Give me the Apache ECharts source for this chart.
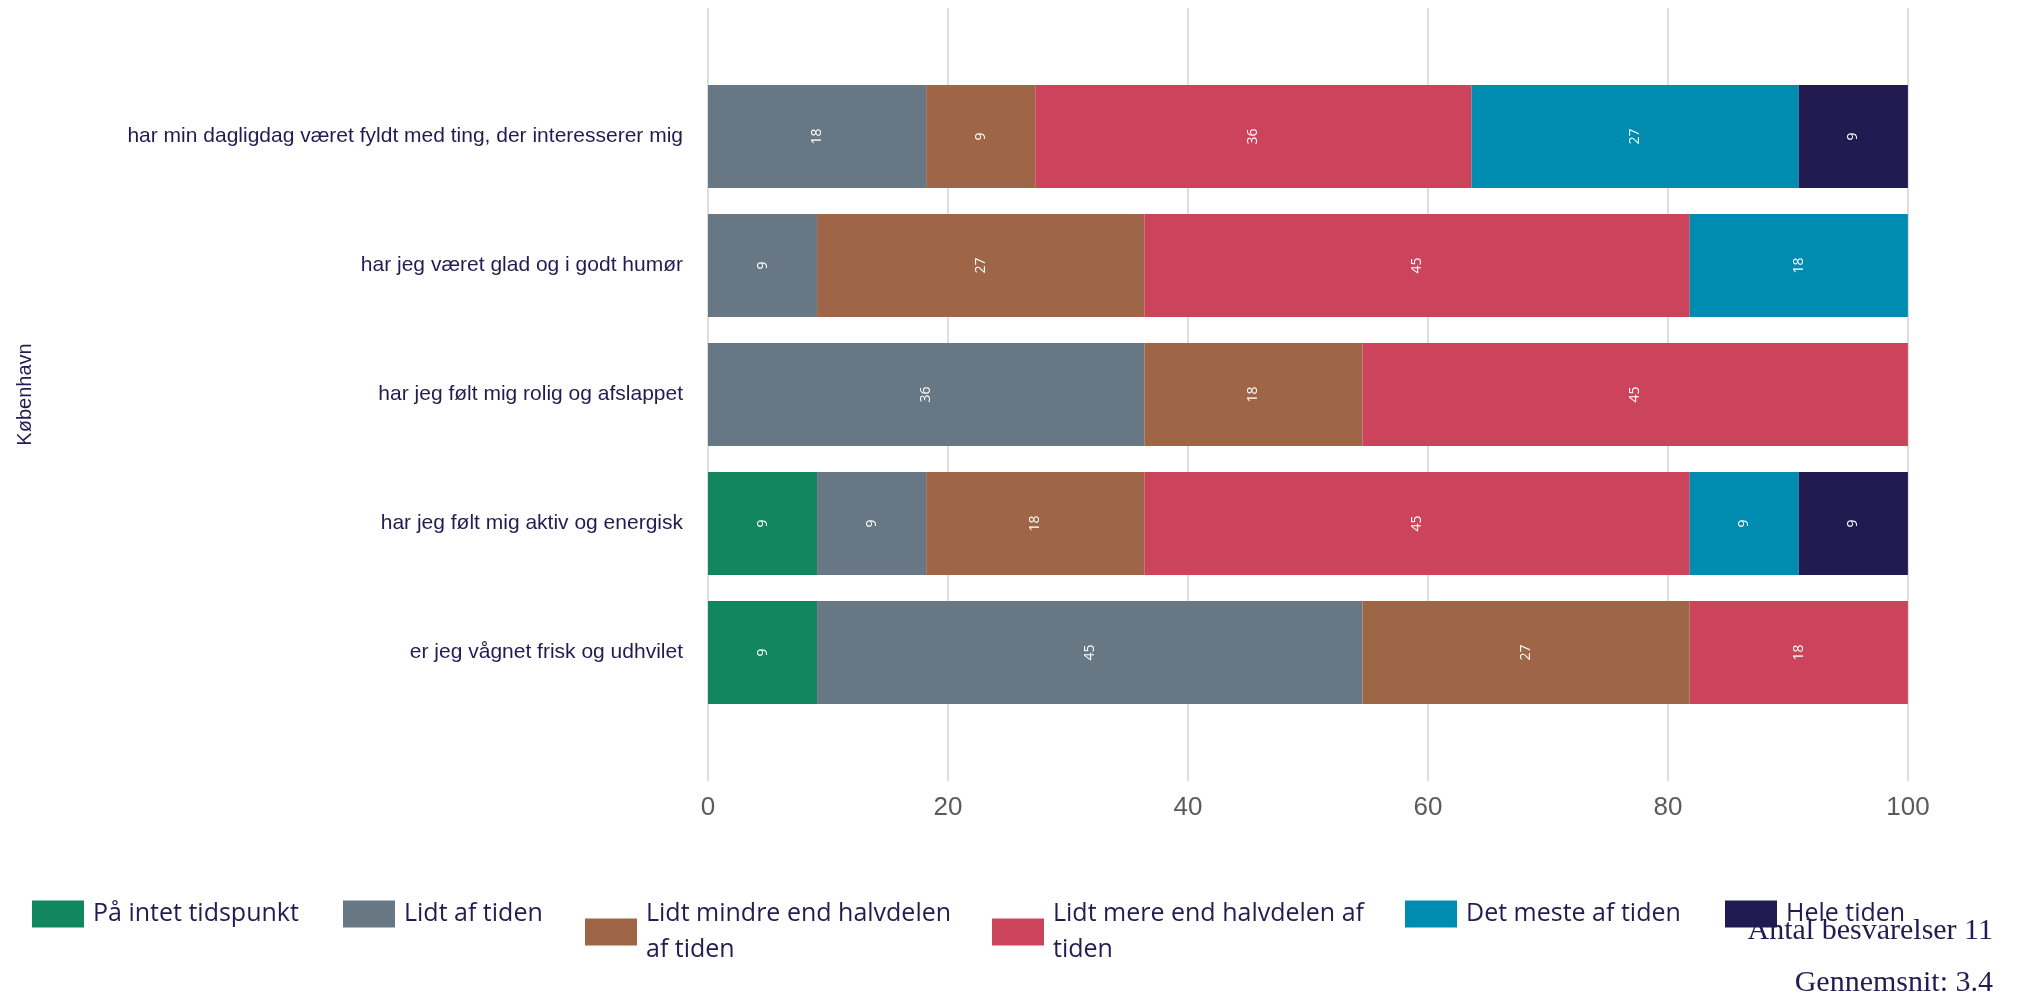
<!DOCTYPE html>
<html>
<head>
<meta charset="utf-8">
<script src="https://cdn.jsdelivr.net/npm/echarts@6/dist/echarts.min.js"></script>
<style>
html,body{margin:0;padding:0;background:#fff;}
#chart{width:2018px;height:997px;}
</style>
</head>
<body>
<div id="chart"></div>
<script>
const categories = [
  "har min dagligdag været fyldt med ting, der interesserer mig",
  "har jeg været glad og i godt humør",
  "har jeg følt mig rolig og afslappet",
  "har jeg følt mig aktiv og energisk",
  "er jeg vågnet frisk og udhvilet"
];
const seriesNames = [
  "På intet tidspunkt",
  "Lidt af tiden",
  "Lidt mindre end halvdelen af tiden",
  "Lidt mere end halvdelen af tiden",
  "Det meste af tiden",
  "Hele tiden"
];
const legendLabels = [
  "På intet tidspunkt",
  "Lidt af tiden",
  "Lidt mindre end halvdelen\naf tiden",
  "Lidt mere end halvdelen af\ntiden",
  "Det meste af tiden",
  "Hele tiden"
];
const colors = ["#11865f", "#677884", "#9e6647", "#cb445b", "#008bb1", "#221b51"];
const paaIntetTidspunkt = [0, 0, 0, 9.09, 9.09];
const lidtAfTiden = [18.18, 9.09, 36.36, 9.09, 45.45];
const lidtMindre = [9.09, 27.27, 18.18, 18.18, 27.27];
const lidtMere = [36.36, 45.45, 45.45, 45.45, 18.18];
const detMeste = [27.27, 18.18, 0, 9.09, 0];
const heleTiden = [9.09, 0, 0, 9.09, 0];
const xTicks = [0, 20, 40, 60, 80, 100];
const axisGroupName = "København";
const nResponses = "Antal besvarelser 11";
const meanText = "Gennemsnit: 3.4";

const values = [paaIntetTidspunkt, lidtAfTiden, lidtMindre, lidtMere, detMeste, heleTiden];
const navy = "#221c51";
const legendLefts = [27, 338, 580, 987, 1400, 1720];

const chart = echarts.init(document.getElementById('chart'));
const series = seriesNames.map((name, i) => ({
  name: name,
  type: 'bar',
  stack: 'total',
  xAxisIndex: 0,
  yAxisIndex: 0,
  barWidth: '80%',
  itemStyle: { color: colors[i] },
  label: {
    show: true,
    position: 'inside',
    rotate: 90,
    color: '#ffffff',
    fontSize: 14,
    fontFamily: 'Open Sans',
    formatter: p => p.value > 0 ? String(Math.round(p.value)) : ''
  },
  emphasis: { disabled: true },
  data: values[i]
}));

const legendMap = {};
seriesNames.forEach((n, i) => legendMap[n] = legendLabels[i]);

const legends = seriesNames.map((n, i) => ({
  left: legendLefts[i], top: 891,
  itemWidth: 52, itemHeight: 27,
  icon: 'rect',
  data: [n],
  formatter: nm => legendMap[nm],
  textStyle: { color: navy, fontSize: 25, fontFamily: 'Open Sans', lineHeight: 36, padding: [0, 0, 0, 4] },
  selectedMode: false
}));

chart.setOption({
  animation: false,
  grid: [
    { left: 708, right: 110, top: 72, bottom: 280, containLabel: false },
    { left: 708, right: 110, top: 8, bottom: 216, containLabel: false }
  ],
  xAxis: [
    { type: 'value', gridIndex: 0, min: 0, max: 100, show: false },
    {
      type: 'value', gridIndex: 1, min: xTicks[0], max: xTicks[xTicks.length - 1], interval: 20,
      axisLine: { show: false }, axisTick: { show: false },
      splitLine: { show: true, lineStyle: { color: '#dedede', width: 2 } },
      axisLabel: { color: '#5a5a5a', fontSize: 26, fontFamily: 'Liberation Sans', margin: 14 }
    }
  ],
  yAxis: [
    {
      type: 'category', gridIndex: 0, data: categories, inverse: true,
      axisLine: { show: false }, axisTick: { show: false },
      axisLabel: { color: navy, fontSize: 21, fontFamily: 'Liberation Sans', margin: 25 }
    },
    {
      type: 'value', gridIndex: 1, min: 0, max: 1,
      axisLine: { show: false }, axisTick: { show: false }, axisLabel: { show: false },
      splitLine: { show: false },
      name: axisGroupName, nameLocation: 'middle', nameGap: 673, nameRotate: 90,
      nameTextStyle: { color: navy, fontSize: 20, fontFamily: 'Liberation Sans' }
    }
  ],
  legend: legends,
  graphic: [
    { type: 'text', x: 1993, y: 931, style: { text: nResponses, textAlign: 'right', textVerticalAlign: 'middle', fill: navy, font: '30px "Liberation Serif"' } },
    { type: 'text', x: 1993, y: 983, style: { text: meanText, textAlign: 'right', textVerticalAlign: 'middle', fill: navy, font: '30px "Liberation Serif"' } }
  ],
  series: series
});
</script>
</body>
</html>
